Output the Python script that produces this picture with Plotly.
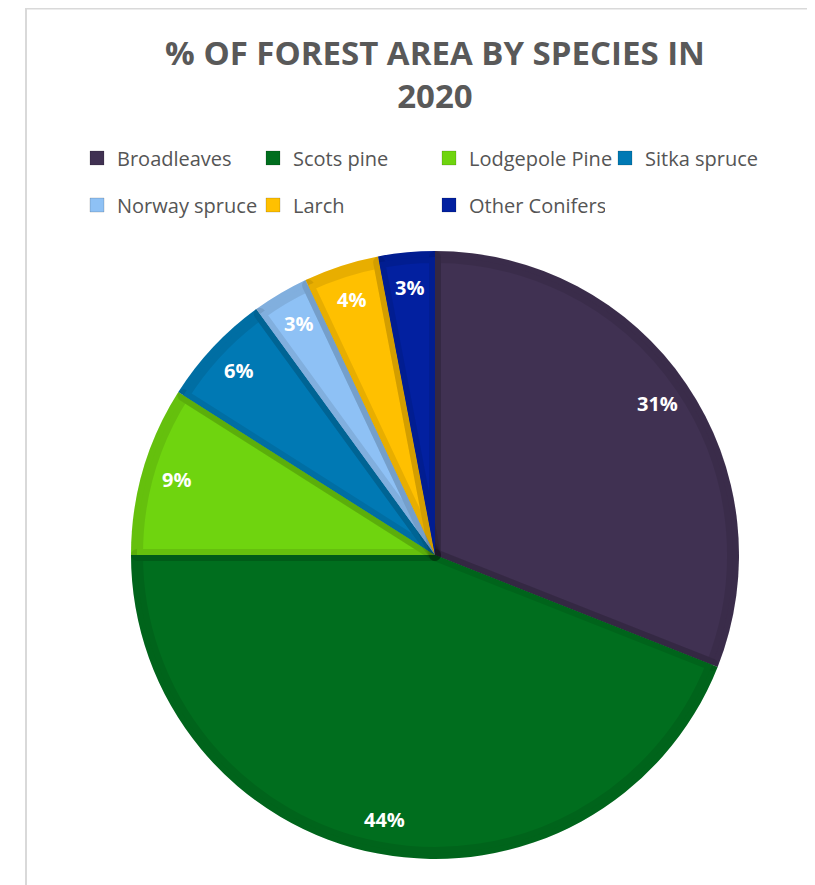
import math
import plotly.graph_objects as go

# ---- data ----
species = ["Broadleaves", "Scots pine", "Lodgepole Pine", "Sitka spruce",
           "Norway spruce", "Larch", "Other Conifers"]
share_pct = [31, 44, 9, 6, 3, 4, 3]
colors = ["#403152", "#006e1e", "#6fd40f", "#0079b4", "#8ec1f5", "#ffc000", "#0220a0"]
legend_rows = [[0, 1, 2, 3], [4, 5, 6]]

W, H = 815, 885
OFF = 8  # page body margin
CX, CY, R = 435 - OFF, 555 - OFF, 304
INSET = 6


def dom(r):
    return dict(x=[(CX - r) / W, (CX + r) / W], y=[1 - (CY + r) / H, 1 - (CY - r) / H])


fig = go.Figure()

# base pie (full radius)
fig.add_trace(go.Pie(
    labels=species, values=share_pct, sort=False, direction="clockwise", rotation=0,
    marker=dict(colors=colors, line=dict(width=0)),
    textinfo="none", hoverinfo="skip", showlegend=False, domain=dom(R),
))
# top pie, slightly smaller, with darker inner edge bands
fig.add_trace(go.Pie(
    labels=species, values=share_pct, sort=False, direction="clockwise", rotation=0,
    marker=dict(colors=colors, line=dict(width=2 * INSET, color="rgba(0,0,0,0.09)")),
    textinfo="none", showlegend=False, domain=dom(R - INSET),
))

# legend entries (two rows as two legends)
for row_i, row in enumerate(legend_rows):
    for i in row:
        fig.add_trace(go.Scatter(
            x=[None], y=[None], mode="markers", name=species[i],
            marker=dict(symbol="square", size=14, color=colors[i],
                        line=dict(width=1, color="rgba(0,0,0,0.15)")),
            legend="legend" if row_i == 0 else "legend2",
        ))

# percentage labels, placed near the outer edge of each slice
total = sum(share_pct)
cum = 0
for v in share_pct:
    mid = (cum + v / 2) / total * 2 * math.pi
    cum += v
    rr = 0.885 * R
    px = CX + math.sin(mid) * rr
    py = CY - math.cos(mid) * rr
    fig.add_annotation(
        x=px / W, y=1 - py / H, xref="paper", yref="paper",
        text=f"<b>{v}%</b>", showarrow=False,
        font=dict(family="Open Sans", size=20, color="white"),
        xanchor="center", yanchor="middle",
    )

legend_common = dict(
    orientation="h", xanchor="left", yanchor="middle",
    font=dict(family="Open Sans", size=20, color="#555555"),
    entrywidth=131, entrywidthmode="pixels", bgcolor="rgba(0,0,0,0)",
    itemclick=False, itemdoubleclick=False,
)

fig.update_layout(
    width=W, height=H,
    margin=dict(l=0, r=0, t=0, b=0),
    paper_bgcolor="white", plot_bgcolor="white",
    title=dict(
        text="<b>% OF FOREST AREA BY SPECIES IN<br>2020</b>",
        x=CX / W, xanchor="center", y=1 - 57 / H, yanchor="top",
        font=dict(family="Open Sans", size=33, color="#595959"),
    ),
    legend=dict(x=69 / W, y=1 - (158 - OFF) / H, **legend_common),
    legend2=dict(x=69 / W, y=1 - (205 - OFF) / H, **legend_common),
    xaxis=dict(visible=False), yaxis=dict(visible=False),
    shapes=[dict(type="rect", xref="paper", yref="paper",
                 x0=(26 - OFF) / W, x1=1.02, y0=-0.02, y1=1 - 0.5 / H,
                 line=dict(color="#d9d9d9", width=2), layer="below")],
)

fig.write_html("out.html")
